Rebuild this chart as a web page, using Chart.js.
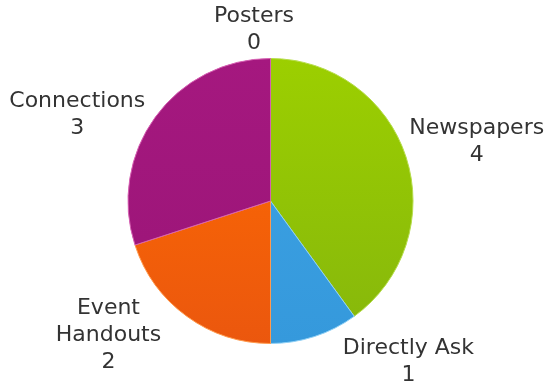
<!DOCTYPE html>
<html>
<head>
<meta charset="utf-8">
<script src="https://cdn.jsdelivr.net/npm/chart.js@4.4.1/dist/chart.umd.min.js"></script>
<style>
  html, body { margin: 0; padding: 0; background: #fff; }
  #wrap { width: 547px; height: 386px; position: relative; }
</style>
</head>
<body>
<div id="wrap"><canvas id="pie"></canvas></div>
<script>
// data
const categories = ['Posters', 'Newspapers', 'Directly Ask', 'Event Handouts', 'Connections'];
const counts = [0, 4, 1, 2, 3];

// label lines for the outside labels (name may wrap)
const labelLines = [['Posters'], ['Newspapers'], ['Directly Ask'], ['Event', 'Handouts'], ['Connections']];
// where each label block sits, relative to the pie centre, in radii
const labelAnchor = [[-0.116, -1.2], [1.447, -0.415], [0.968, 1.127], [-1.137, 0.944], [-1.356, -0.602]];

// top / bottom shade for every slice
const shades = [
    ['#bbbbbb', '#999999'],
    ['#9ccf00', '#86b70c'],
    ['#3ea3e4', '#3599dc'],
    ['#ff6d00', '#eb570e'],
    ['#a5187f', '#9a1577']
];
const edges = ['#cccccc', '#b5dc4a', '#8fd0f5', '#ff9a4d', '#d65fb2'];

function sliceFill(ctx) {
    const chart = ctx.chart;
    const area = chart.chartArea;
    if (!area) return shades[ctx.dataIndex][0];
    const g = chart.ctx.createLinearGradient(0, area.top, 0, area.bottom);
    g.addColorStop(0, shades[ctx.dataIndex][0]);
    g.addColorStop(1, shades[ctx.dataIndex][1]);
    return g;
}

const outsideLabels = {
    id: 'outsideLabels',
    afterDatasetsDraw(chart) {
        const c = chart.ctx;
        const arcs = chart.getDatasetMeta(0).data;
        c.save();
        c.font = '22px "DejaVu Sans", sans-serif';
        c.fillStyle = '#333333';
        c.textAlign = 'center';
        c.textBaseline = 'middle';
        const lh = 27;
        arcs.forEach((arc, i) => {
            const r = arc.outerRadius;
            const cx = arc.x + labelAnchor[i][0] * r;
            const cy = arc.y + labelAnchor[i][1] * r;
            const lines = labelLines[i].concat([String(counts[i])]);
            const y0 = cy - (lines.length - 1) * lh / 2;
            lines.forEach((t, k) => c.fillText(t, cx, y0 + k * lh));
        });
        c.restore();
    }
};

new Chart(document.getElementById('pie'), {
    type: 'pie',
    data: {
        labels: categories,
        datasets: [{
            data: counts,
            backgroundColor: sliceFill,
            borderColor: edges,
            borderWidth: 1
        }]
    },
    options: {
        responsive: true,
        maintainAspectRatio: false,
        animation: false,
        layout: { padding: { top: 58, bottom: 42, left: 0, right: 6 } },
        plugins: {
            legend: { display: false },
            tooltip: { enabled: false }
        }
    },
    plugins: [outsideLabels]
});
</script>
</body>
</html>
